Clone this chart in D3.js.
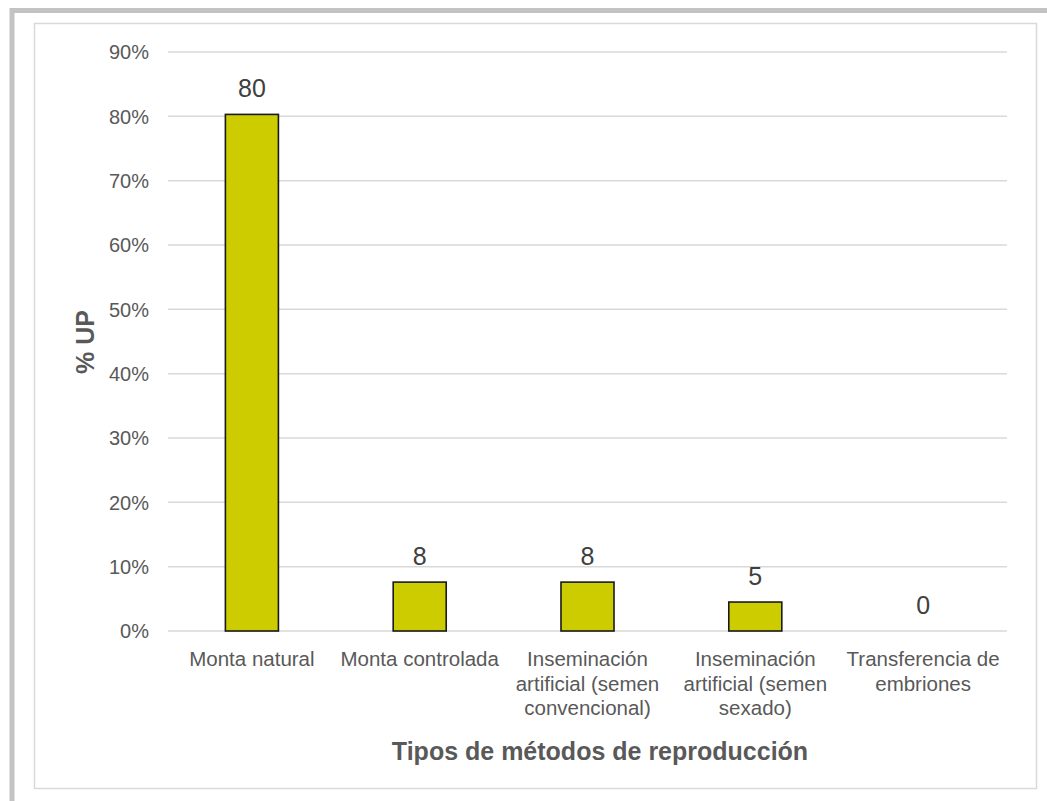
<!DOCTYPE html>
<html lang="es">
<head>
<meta charset="UTF-8">
<title>Métodos de reproducción</title>
<script src="https://d3js.org/d3.v7.min.js"></script>
<style>
  body { margin: 0; background: #fff; }
  text { font-family: "Liberation Sans", Arial, sans-serif; }
</style>
</head>
<body>
<script>
  // data
  var categories = [
    ["Monta natural"],
    ["Monta controlada"],
    ["Inseminación", "artificial (semen", "convencional)"],
    ["Inseminación", "artificial (semen", "sexado)"],
    ["Transferencia de", "embriones"]
  ];
  var values = [80.3, 7.6, 7.6, 4.5, 0];
  var valueLabels = ["80", "8", "8", "5", "0"];
  var yTicks = [0, 10, 20, 30, 40, 50, 60, 70, 80, 90];

  var width = 1047, height = 801;
  var svg = d3.select("body").append("svg")
    .attr("width", width)
    .attr("height", height);

  // outer frame (cut off at right and bottom)
  svg.append("rect")
    .attr("x", 12).attr("y", 10.5)
    .attr("width", 1060).attr("height", 820)
    .attr("fill", "none")
    .attr("stroke", "#c3c3c3")
    .attr("stroke-width", 5);

  // inner chart panel
  svg.append("rect")
    .attr("x", 34.5).attr("y", 23.5)
    .attr("width", 1002).attr("height", 765)
    .attr("fill", "#fff")
    .attr("stroke", "#d9d9d9")
    .attr("stroke-width", 1.5);

  var plotL = 168, plotR = 1007, plotT = 52, plotB = 631;

  var x = d3.scaleBand()
    .domain(d3.range(categories.length))
    .range([plotL, plotR])
    .paddingInner(0.684)
    .paddingOuter(0.342);

  var y = d3.scaleLinear()
    .domain([0, 90])
    .range([plotB, plotT]);

  // gridlines
  svg.append("g")
    .selectAll("line")
    .data(yTicks)
    .join("line")
    .attr("x1", plotL).attr("x2", plotR)
    .attr("y1", d => y(d)).attr("y2", d => y(d))
    .attr("stroke", "#d9d9d9")
    .attr("stroke-width", 1.5);

  // y tick labels
  svg.append("g")
    .selectAll("text")
    .data(yTicks)
    .join("text")
    .attr("x", 149)
    .attr("y", d => y(d))
    .attr("dy", "0.36em")
    .attr("text-anchor", "end")
    .attr("font-size", 20)
    .attr("fill", "#595959")
    .text(d => d + "%");

  // bars
  svg.append("g")
    .selectAll("rect")
    .data(values)
    .join("rect")
    .attr("x", (d, i) => x(i))
    .attr("y", d => y(d))
    .attr("width", x.bandwidth())
    .attr("height", d => plotB - y(d))
    .attr("fill", "#cccc00")
    .attr("stroke", d => d > 0 ? "#1a1a1a" : "none")
    .attr("stroke-width", 1.6);

  // value labels
  svg.append("g")
    .selectAll("text")
    .data(values)
    .join("text")
    .attr("x", (d, i) => x(i) + x.bandwidth() / 2)
    .attr("y", d => y(d) - 17)
    .attr("text-anchor", "middle")
    .attr("font-size", 25)
    .attr("fill", "#404040")
    .text((d, i) => valueLabels[i]);

  // category labels
  var catG = svg.append("g")
    .selectAll("text")
    .data(categories)
    .join("text")
    .attr("x", (d, i) => x(i) + x.bandwidth() / 2)
    .attr("y", 666)
    .attr("text-anchor", "middle")
    .attr("font-size", 20.5)
    .attr("fill", "#595959");
  catG.selectAll("tspan")
    .data(d => d)
    .join("tspan")
    .attr("x", function () { return this.parentNode.getAttribute("x"); })
    .attr("dy", (d, i) => i === 0 ? 0 : 24.5)
    .text(d => d);

  // axis titles
  svg.append("text")
    .attr("x", 600)
    .attr("y", 760)
    .attr("text-anchor", "middle")
    .attr("font-size", 25)
    .attr("font-weight", "bold")
    .attr("fill", "#595959")
    .text("Tipos de métodos de reproducción");

  svg.append("text")
    .attr("transform", "translate(94,342) rotate(-90)")
    .attr("text-anchor", "middle")
    .attr("font-size", 25)
    .attr("font-weight", "bold")
    .attr("fill", "#595959")
    .text("% UP");
</script>
</body>
</html>
